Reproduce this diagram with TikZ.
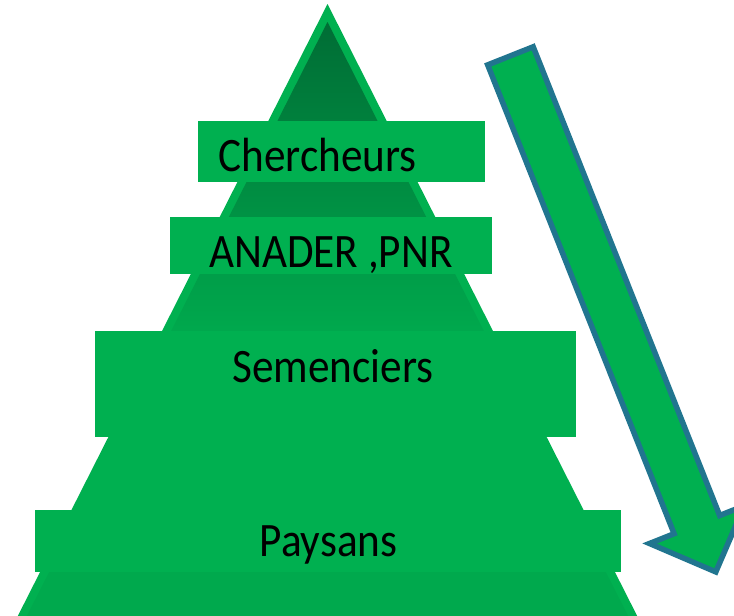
\documentclass[tikz,border=0pt]{standalone}
\usepackage{fontspec}
\setmainfont[FakeStretch=0.9]{Carlito}
\definecolor{grn}{HTML}{00B050}
\definecolor{grntop}{HTML}{006D35}
\definecolor{grnlow}{HTML}{00A94D}
\definecolor{arrowline}{HTML}{21758F}
\begin{document}
\begin{tikzpicture}[x=1pt,y=-1pt,
  lbl/.style={font=\fontsize{48}{56}\selectfont, text=black, anchor=base, inner sep=0pt},
  band/.style={fill=grn, draw=none},
  blockarrow/.style={draw=arrowline, fill=grn, line width=5.5pt, line join=miter}]
\useasboundingbox (0,0) rectangle (734,616);
% outer triangle
\fill[grn] (327.5,4) -- (637.2,616) -- (17.8,616) -- cycle;
% inner shaded triangle
\begin{scope}
\clip (327.5,22) -- (628.1,616) -- (26.9,616) -- cycle;
\shade[top color=grntop, bottom color=grn] (0,22) rectangle (734,370);
\fill[grn] (0,369) rectangle (734,572);
\fill[grnlow] (0,572) rectangle (734,616);
\end{scope}
% level bars
\path[band] (198,121) rectangle (485,182);
\path[band] (170,217) rectangle (492,274);
\path[band] (95,331) rectangle (576,437);
\path[band] (35,510) rectangle (621,572);
% labels
\node[lbl] (chercheurs) at (317.5,171) {Chercheurs};
\node[lbl] (anader) at (331,267) {ANADER ,PNR};
\node[lbl] (semenciers) at (333,382) {Semenciers};
\node[lbl] (paysans) at (328.5,556) {Paysans};
% block arrow
\draw[blockarrow] (487.7,64.9) -- (533.2,46.8) -- (719.7,515.5) -- (744.3,505.7)
  -- (715.8,571.9) -- (649.5,543.5) -- (674.1,533.7) -- cycle;
\end{tikzpicture}
\end{document}
